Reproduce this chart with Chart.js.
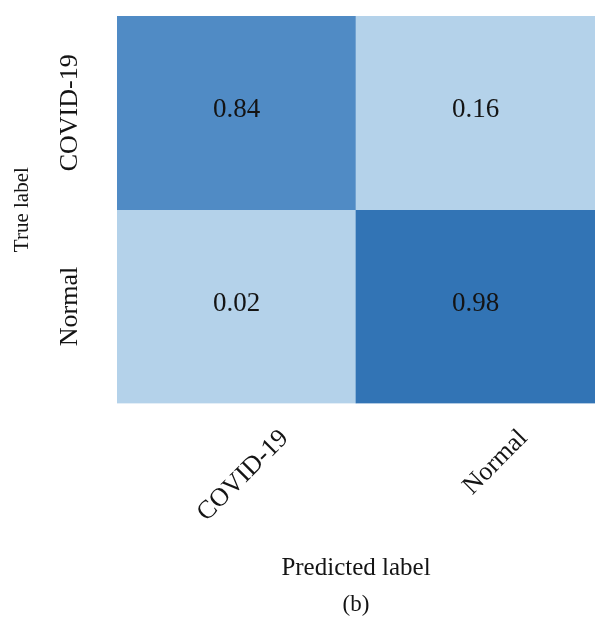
<!DOCTYPE html>
<html>
<head>
<meta charset="utf-8">
<title>Confusion matrix</title>
<script src="https://cdn.jsdelivr.net/npm/chart.js@4/dist/chart.umd.min.js"></script>
<style>
  html, body { margin: 0; padding: 0; background: #ffffff; overflow: hidden; }
  #wrap { width: 595px; height: 622px; }
</style>
</head>
<body>
<div id="wrap"><canvas id="cm" width="595" height="622"></canvas></div>
<script>
// Axis categories
const predictedLabels = ['COVID-19', 'Normal'];
const trueLabels = ['COVID-19', 'Normal'];

// Normalised confusion-matrix rows (true label -> predicted label)
const rowCovid = [0.84, 0.16];
const rowNormal = [0.02, 0.98];
const matrixRows = [rowCovid, rowNormal];

// Blue colour ramp: [value, rgb]
const colorStops = [
  [0.16, [180, 210, 234]],
  [0.84, [80, 139, 197]],
  [0.98, [50, 116, 181]]
];

const SERIF = '"Liberation Serif", "Times New Roman", serif';
const TEXT = '#141414';

function cellColor(v) {
  if (v <= colorStops[0][0]) return 'rgb(' + colorStops[0][1].join(',') + ')';
  for (let i = 1; i < colorStops.length; i++) {
    const [v0, c0] = colorStops[i - 1];
    const [v1, c1] = colorStops[i];
    if (v <= v1) {
      const t = (v - v0) / (v1 - v0);
      return 'rgb(' + c0.map((c, k) => Math.round(c + (c1[k] - c) * t)).join(',') + ')';
    }
  }
  return 'rgb(' + colorStops[colorStops.length - 1][1].join(',') + ')';
}

const n = trueLabels.length;

// One floating-bar dataset per true-label row; row i occupies [n-1-i, n-i]
const datasets = matrixRows.map((vals, i) => ({
  label: trueLabels[i],
  data: vals.map(() => [n - 1 - i, n - i]),
  cellValues: vals,
  backgroundColor: vals.map(cellColor),
  borderWidth: 0,
  barPercentage: 1,
  categoryPercentage: 1,
  grouped: false
}));

// Writes each cell's value at the centre of its bar
const cellValueLabels = {
  id: 'cellValueLabels',
  afterDatasetsDraw(chart) {
    const ctx = chart.ctx;
    ctx.save();
    ctx.font = '27px ' + SERIF;
    ctx.fillStyle = TEXT;
    ctx.textAlign = 'center';
    ctx.textBaseline = 'middle';
    chart.data.datasets.forEach((ds, di) => {
      chart.getDatasetMeta(di).data.forEach((bar, j) => {
        const v = ds.cellValues[j];
        ctx.fillText(v.toFixed(2), bar.x, (bar.y + bar.base) / 2 - 3);
      });
    });
    ctx.restore();
  }
};

new Chart(document.getElementById('cm'), {
  type: 'bar',
  data: { labels: predictedLabels, datasets },
  plugins: [cellValueLabels],
  options: {
    responsive: false,
    devicePixelRatio: 1,
    animation: false,
    layout: { padding: { top: 16, left: 0, right: 0, bottom: 0 } },
    plugins: {
      legend: { display: false },
      tooltip: { enabled: false },
      subtitle: {
        display: true,
        text: '(b)',
        position: 'bottom',
        fullSize: false,
        color: TEXT,
        font: { family: SERIF, size: 23, weight: 'normal' },
        padding: { top: 0, bottom: 3 }
      }
    },
    scales: {
      x: {
        type: 'category',
        offset: true,
        grid: { display: false, drawTicks: false },
        border: { display: false },
        ticks: {
          autoSkip: false,
          minRotation: 45,
          maxRotation: 45,
          labelOffset: 48,
          padding: 20,
          color: TEXT,
          font: { family: SERIF, size: 26 }
        },
        title: {
          display: true,
          text: 'Predicted label',
          color: TEXT,
          font: { family: SERIF, size: 25 },
          padding: { top: 0, bottom: 8 }
        },
        afterFit(scale) { scale.height = 188; }
      },
      y: {
        type: 'linear',
        min: 0,
        max: n,
        grid: { display: false, drawTicks: false },
        border: { display: false },
        afterBuildTicks(scale) {
          scale.ticks = trueLabels.map((_, i) => ({ value: n - 0.5 - i }));
        },
        ticks: {
          autoSkip: false,
          minRotation: 90,
          maxRotation: 90,
          crossAlign: 'center',
          padding: -12,
          color: TEXT,
          font: { family: SERIF, size: 26 },
          callback: (v) => trueLabels[Math.round(n - 0.5 - v)]
        },
        title: {
          display: true,
          text: 'True label',
          color: TEXT,
          font: { family: SERIF, size: 21 },
          padding: { top: 10, bottom: 0 }
        },
        afterFit(scale) { scale.width = 117; }
      }
    }
  }
});
</script>
</body>
</html>
